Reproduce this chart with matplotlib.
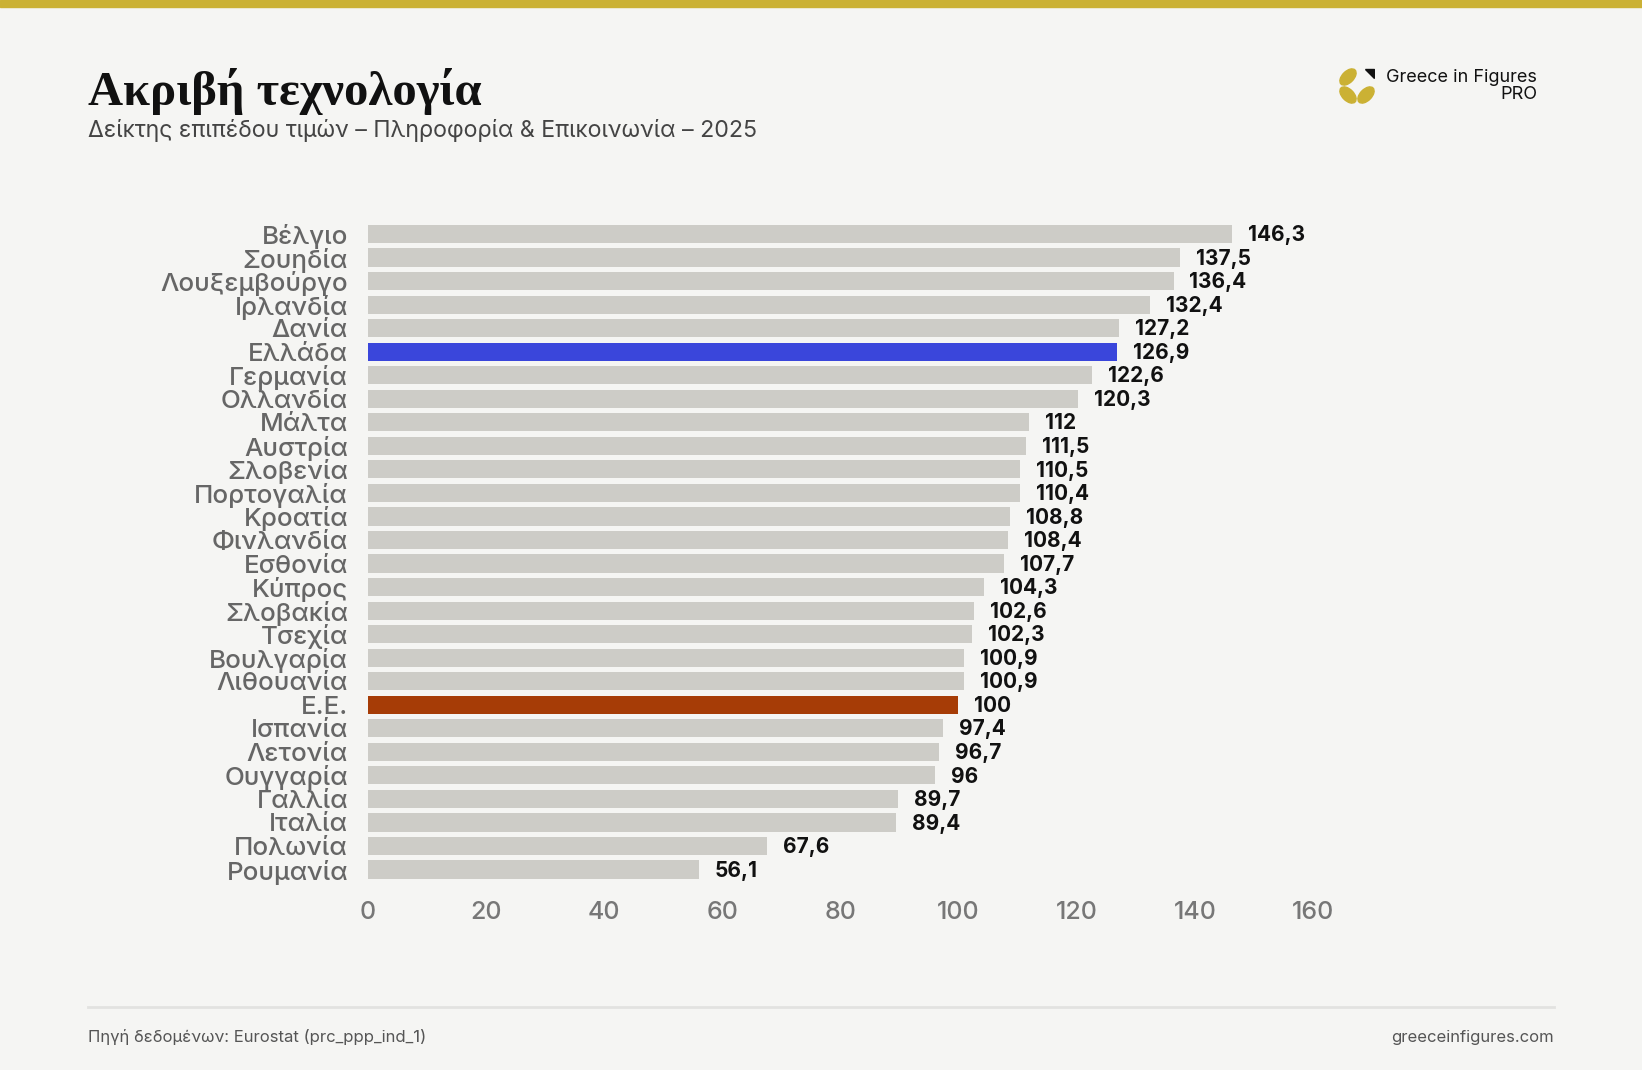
import matplotlib
matplotlib.use("Agg")
import matplotlib.pyplot as plt
from matplotlib.patches import Rectangle, Ellipse, Polygon

# Data: price level index, information & communication, 2025
countries = ["Βέλγιο", "Σουηδία", "Λουξεμβούργο", "Ιρλανδία", "Δανία", "Ελλάδα",
             "Γερμανία", "Ολλανδία", "Μάλτα", "Αυστρία", "Σλοβενία", "Πορτογαλία",
             "Κροατία", "Φινλανδία", "Εσθονία", "Κύπρος", "Σλοβακία", "Τσεχία",
             "Βουλγαρία", "Λιθουανία", "Ε.Ε.", "Ισπανία", "Λετονία", "Ουγγαρία",
             "Γαλλία", "Ιταλία", "Πολωνία", "Ρουμανία"]
values = [146.3, 137.5, 136.4, 132.4, 127.2, 126.9, 122.6, 120.3, 112, 111.5,
          110.5, 110.4, 108.8, 108.4, 107.7, 104.3, 102.6, 102.3, 100.9, 100.9,
          100, 97.4, 96.7, 96, 89.7, 89.4, 67.6, 56.1]
x_ticks = [0, 20, 40, 60, 80, 100, 120, 140, 160]

BG = "#F5F5F3"
GREY = "#CDCCC7"
GREECE = "#3A46DB"
EU = "#A63C06"
GOLD = "#CBB134"

W, H = 1642, 1070
fig = plt.figure(figsize=(W / 100, H / 100), dpi=100, facecolor=BG)

# top gold strip
fig.patches.append(Rectangle((0, 1 - 7 / H), 1, 7 / H, transform=fig.transFigure,
                             color=GOLD, zorder=5))

# title / subtitle
fig.text(88 / W, 1 - 105 / H, "Ακριβή τεχνολογία", family="Liberation Serif",
         weight="bold", fontsize=35, color="#111111", va="baseline", ha="left")
fig.text(88 / W, 1 - 137 / H, "Δείκτης επιπέδου τιμών – Πληροφορία & Επικοινωνία – 2025",
         family="Inter", fontsize=16.7, color="#444444", va="baseline", ha="left")

# chart
ax = fig.add_axes([367.5 / W, 1 - 881.3 / H, (1313 - 367.5) / W, (881.3 - 222.2) / H])
ax.set_facecolor(BG)
ypos = list(range(len(countries)))
colors = []
for c in countries:
    if c == "Ελλάδα":
        colors.append(GREECE)
    elif c == "Ε.Ε.":
        colors.append(EU)
    else:
        colors.append(GREY)
ax.barh(ypos, values, height=0.77, color=colors)
for y, v in zip(ypos, values):
    lab = f"{v:g}".replace(".", ",")
    ax.text(v + 2.7, y + 0.05, lab, va="center", ha="left", family="Inter", weight="bold",
            fontsize=15, color="#111111", clip_on=False)

ax.set_xlim(0, 160)
ax.set_ylim(len(countries) - 0.5, -0.5)
ax.set_yticks(ypos)
ax.set_yticklabels(countries, family="Inter", fontsize=18.7, color="#666666",
                   weight="medium")
ax.set_xticks(x_ticks)
ax.set_xticklabels([str(t) for t in x_ticks], family="Inter", fontsize=18,
                   color="#777777", weight="medium")
ax.tick_params(axis="both", length=0)
ax.tick_params(axis="y", pad=14)
ax.tick_params(axis="x", pad=14)
for s in ax.spines.values():
    s.set_visible(False)

# footer
fig.add_artist(plt.Line2D([88 / W, 1554 / W], [1 - 1007 / H] * 2, color="#E2E2E0",
                          lw=2, transform=fig.transFigure))
fig.text(88 / W, 1 - 1042 / H, "Πηγή δεδομένων: Eurostat (prc_ppp_ind_1)", family="Inter",
         fontsize=12, color="#555555", va="baseline", ha="left")
fig.text(1554 / W, 1 - 1042 / H, "greeceinfigures.com", family="Inter",
         fontsize=12, color="#555555", va="baseline", ha="right")

# logo
fig.text(1537 / W, 1 - 82 / H, "Greece in Figures", family="Inter", fontsize=13,
         color="#111111", va="baseline", ha="right")
fig.text(1537 / W, 1 - 99 / H, "PRO", family="Inter", fontsize=13,
         color="#111111", va="baseline", ha="right")
lax = fig.add_axes([1339 / W, 1 - 104 / H, 36 / W, 36 / H])
lax.set_xlim(-1, 1)
lax.set_ylim(-1, 1)
lax.axis("off")
for ang, xy in [(45, (-0.5, 0.5)), (-45, (-0.5, -0.5)), (45, (0.5, -0.5))]:
    lax.add_patch(Ellipse(xy, 1.1, 0.64, angle=ang, color=GOLD))
lax.add_patch(Polygon([(0.45, 0.95), (0.95, 0.95), (0.95, 0.45)], closed=True,
                      color="#111111"))

fig.savefig("out.png", dpi=100, facecolor=BG)
